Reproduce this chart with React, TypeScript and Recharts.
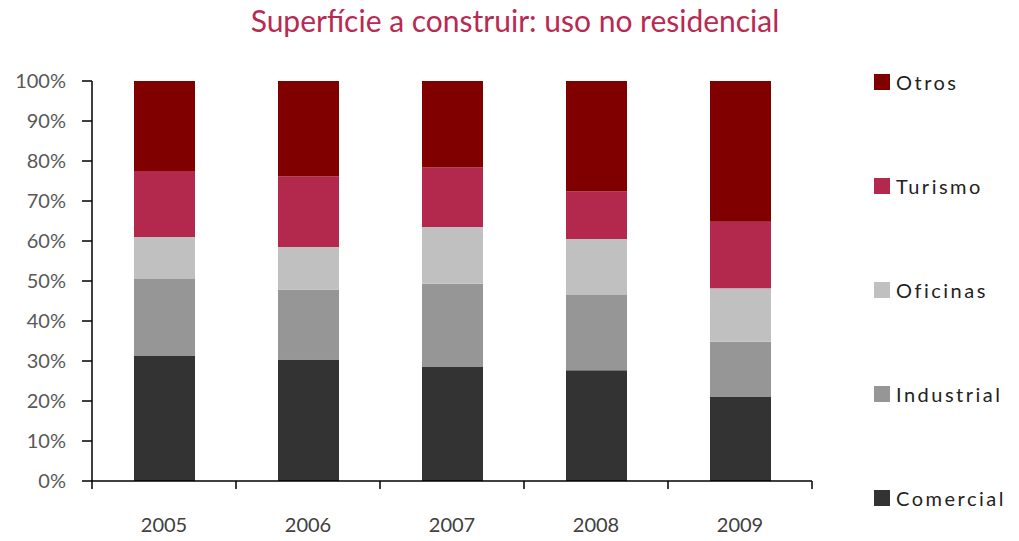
import { BarChart, Bar, XAxis, YAxis } from 'recharts';

const years = ['2005', '2006', '2007', '2008', '2009'];
const comercial = [31.4, 30.4, 28.5, 27.7, 21.0];
const industrial = [19.1, 17.5, 20.8, 18.8, 13.8];
const oficinas = [10.5, 10.6, 14.2, 14.0, 13.4];
const turismo = [16.5, 17.6, 14.9, 11.9, 16.6];
const otros = [22.5, 23.9, 21.6, 27.6, 35.2];
const yTicks = [0, 10, 20, 30, 40, 50, 60, 70, 80, 90, 100];

const series = [
  { key: 'Comercial', values: comercial, color: '#333333' },
  { key: 'Industrial', values: industrial, color: '#969696' },
  { key: 'Oficinas', values: oficinas, color: '#c0c0c0' },
  { key: 'Turismo', values: turismo, color: '#b3294e' },
  { key: 'Otros', values: otros, color: '#800000' },
];

const data = years.map((year, i) => {
  const row: Record<string, string | number> = { year };
  series.forEach(s => { row[s.key] = s.values[i]; });
  return row;
});

const PLOT_W = 720;
const HALF_BAND = PLOT_W / years.length / 2;

function XTick({ x, y, payload, index }: any) {
  const last = index === years.length - 1;
  return (
    <g>
      <line x1={x - HALF_BAND} x2={x - HALF_BAND} y1={y} y2={y + 8} stroke="#000" strokeWidth={1.5} />
      {last && <line x1={x + HALF_BAND} x2={x + HALF_BAND} y1={y} y2={y + 8} stroke="#000" strokeWidth={1.5} />}
      <text x={x} y={y + 51} textAnchor="middle" fontSize={20} fill="#404040" fontFamily="Lato, sans-serif">
        {payload.value}
      </text>
    </g>
  );
}

function LegendBox() {
  return (
    <div style={{ position: 'absolute', left: 874, top: 72, fontFamily: 'Lato, sans-serif' }}>
      {[...series].reverse().map(s => (
        <div key={s.key} style={{ display: 'flex', alignItems: 'center', height: 20, marginBottom: 84 }}>
          <span style={{ width: 16, height: 16, background: s.color, display: 'inline-block', marginRight: 6 }} />
          <span style={{ fontSize: 20, letterSpacing: 2.5, color: '#222' }}>{s.key}</span>
        </div>
      ))}
    </div>
  );
}

export default function App() {
  return (
    <div style={{ position: 'absolute', left: 0, top: 0, width: 1019, height: 541, background: '#fff' }}>
      <div style={{ position: 'absolute', top: 2, left: 0, width: 1030, textAlign: 'center', fontFamily: 'Lato, sans-serif', fontSize: 30, color: '#b82a52' }}>
        Superfície a construir: uso no residencial
      </div>
      <BarChart width={1019} height={541} data={data} margin={{ top: 81, right: 207, bottom: 0, left: 0 }}>
        <XAxis dataKey="year" height={60} tickLine={false} tickSize={0} tickMargin={0} tick={<XTick />} axisLine={{ stroke: '#000', strokeWidth: 1.5 }} interval={0} />
        <YAxis width={92} domain={[0, 100]} ticks={yTicks} tickFormatter={(v: number) => `${v}%`} tickSize={10} tickMargin={16}
          tick={{ fontSize: 20, fill: '#595959', fontFamily: 'Lato, sans-serif' }} axisLine={{ stroke: '#000', strokeWidth: 1.5 }} tickLine={{ stroke: '#000', strokeWidth: 1.5 }} interval={0} />
        {series.map(s => (
          <Bar key={s.key} dataKey={s.key} stackId="a" fill={s.color} barSize={61} isAnimationActive={false} />
        ))}
      </BarChart>
      <LegendBox />
    </div>
  );
}
